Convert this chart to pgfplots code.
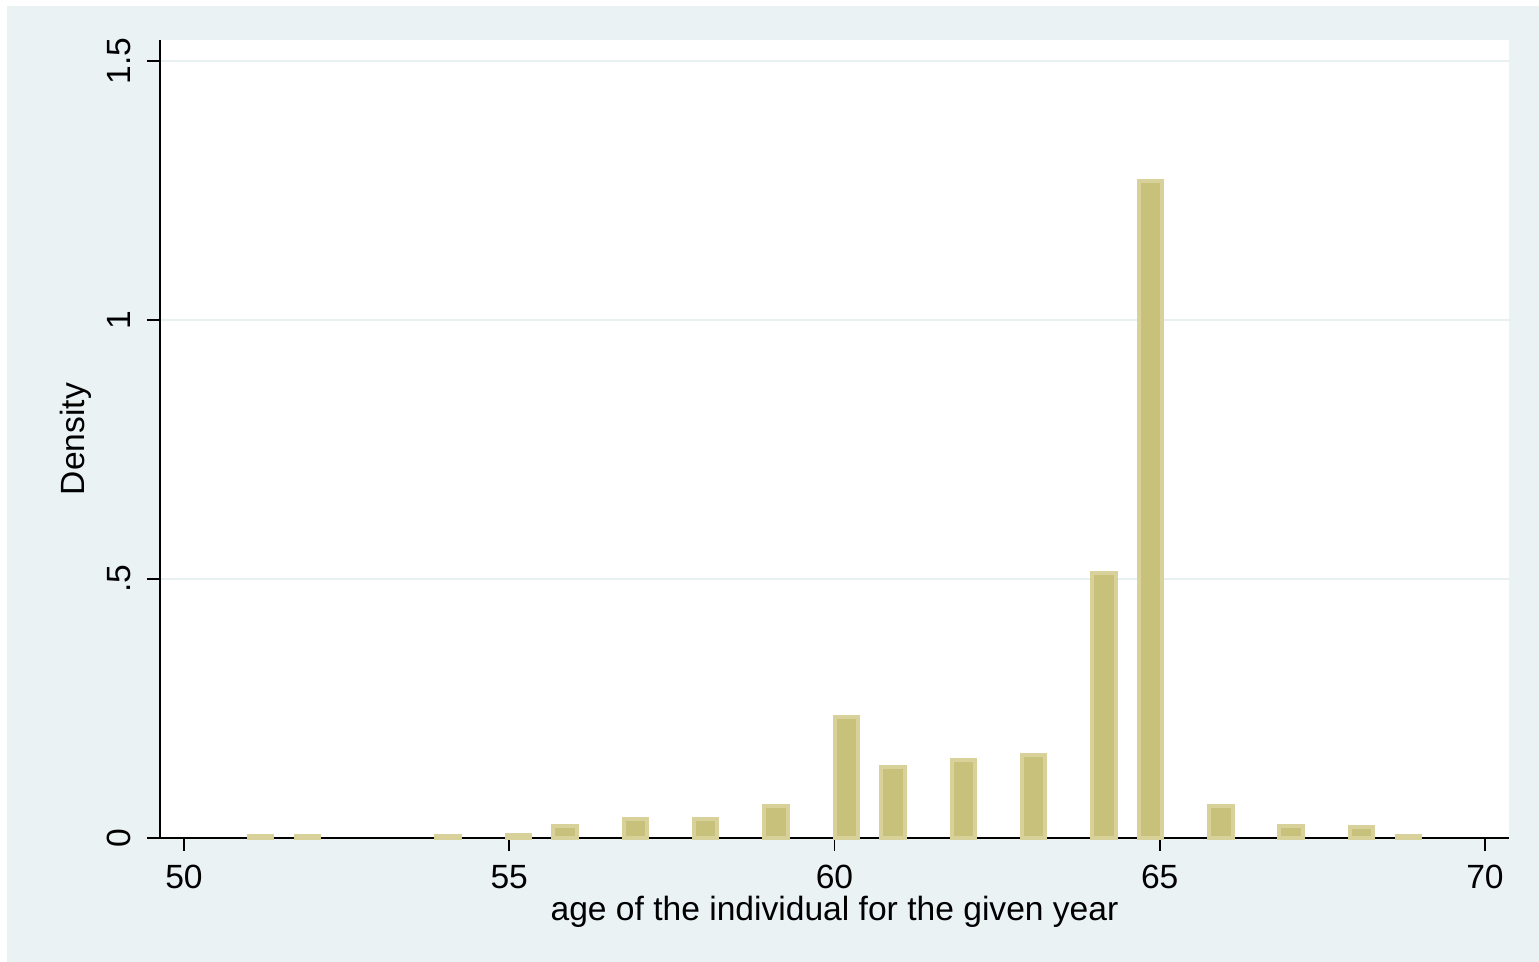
\documentclass[border=0pt]{standalone}
\usepackage{fontspec}
\setmainfont{Liberation Sans}
\usepackage{pgfplots}
\pgfplotsset{compat=1.18}

\definecolor{bgcol}{RGB}{234,242,243}
\definecolor{gridcol}{RGB}{232,240,242}
\definecolor{barfill}{RGB}{200,193,124}
\definecolor{baredge}{RGB}{216,210,154}

% histogram of age: bin centres (bin width 0.36) and density
\pgfplotstableread{
x      d
51.18  0.003
51.90  0.003
54.06  0.003
55.14  0.005
55.86  0.024
56.94  0.037
58.02  0.037
59.10  0.062
60.18  0.234
60.90  0.137
61.98  0.150
63.06  0.161
64.14  0.512
64.86  1.268
65.94  0.062
67.02  0.024
68.10  0.021
68.82  0.003
}\agedata

\begin{document}
\begin{tikzpicture}[x=1pt,y=1pt]
\fill[white] (0,0) rectangle (769.5,481);
\fill[bgcol] (3.5,0) rectangle (769.5,478);
\begin{axis}[
  at={(80pt,62pt)}, anchor=south west,
  scale only axis, width=674.5pt, height=399pt,
  xmin=49.631, xmax=70.369, ymin=0, ymax=1.5405,
  axis x line*=bottom, axis y line*=left,
  axis line style={black, line width=0.8pt, -},
  axis background/.style={fill=white},
  tick align=outside, major tick length=6.5pt,
  tick style={black, line width=0.8pt},
  xtick={50,55,60,65,70},
  ytick={0,0.5,1,1.5}, yticklabels={0,.5,1,1.5},
  minor tick num=0,
  ymajorgrids, grid style={gridcol, line width=1.2pt},
  /pgf/number format/assume math mode=true,
  ticklabel style={font=\fontsize{16.8}{20}\selectfont, inner sep=0pt},
  xticklabel style={anchor=base, yshift=-19pt},
  yticklabel style={xshift=-8pt, rotate=90, anchor=base},
  label style={font=\fontsize{16.8}{20}\selectfont, inner sep=0pt},
  xlabel={age of the individual for the given year},
  xlabel style={at={(axis description cs:0.5,-0.10401)}, anchor=base},
  ylabel={Density},
  ylabel style={at={(axis description cs:-0.05634,0.5)}, anchor=base},
  clip=false,
]
\addplot[ybar, bar width=0.36, bar shift=0pt, fill=barfill, draw=baredge,
  line width=2pt] table[x=x, y=d] {\agedata};
\end{axis}
\end{tikzpicture}
\end{document}
